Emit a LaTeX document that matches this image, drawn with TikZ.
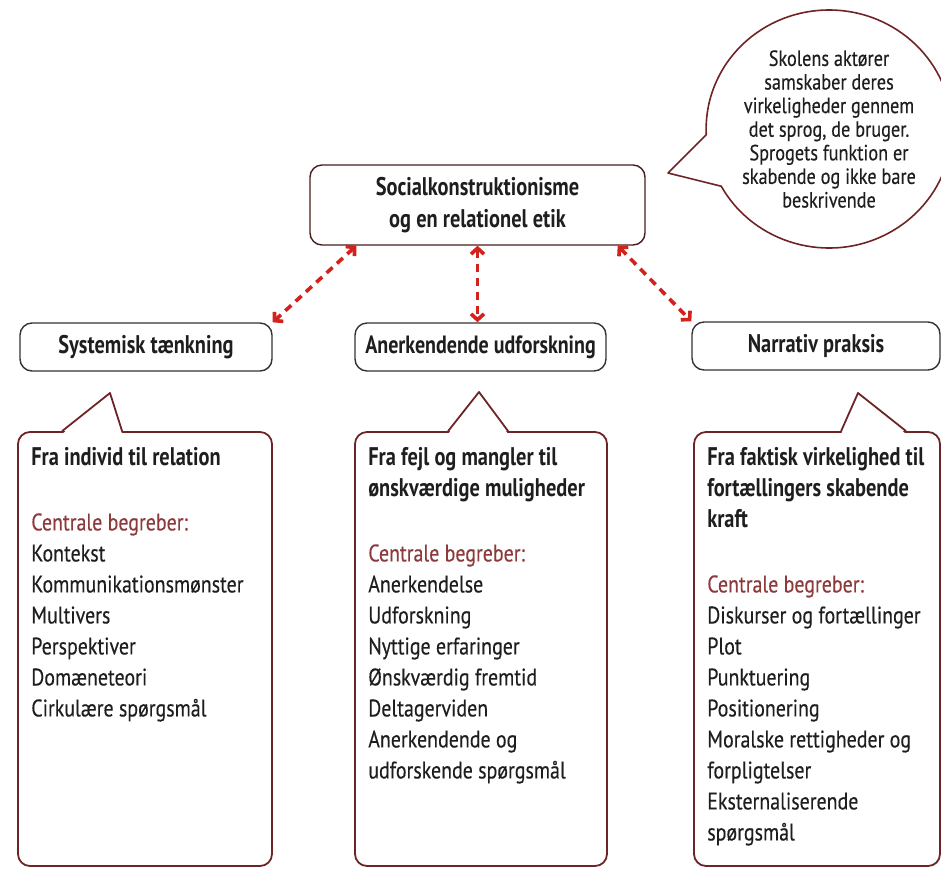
\documentclass[tikz,border=0pt]{standalone}
\usepackage{fontspec}
\setmainfont{PT Sans}[FakeStretch=0.83, FakeBold=0.3]
\newfontfamily\headfamily{PT Sans}[FakeStretch=0.8]
\newcommand\headfont{\headfamily\bfseries}
\usetikzlibrary{arrows.meta, shapes.callouts}
\definecolor{maroon}{HTML}{6E2426}
\definecolor{darkframe}{HTML}{4A1E1E}
\definecolor{arrowred}{HTML}{D3211C}
\definecolor{begreb}{HTML}{8C3A3C}
\definecolor{ink}{HTML}{1E1E1E}
\newcommand\overskrift[1]{{\headfont\fontsize{25.5}{31}\selectfont #1}}
\newcommand\begreb{{\color{begreb}Centrale begreber:}}

\begin{document}
\begin{tikzpicture}[x=1pt, y=-1pt, line join=round, text=ink,
  topic/.style={draw=#1, line width=1.4pt, rounded corners=12pt, fill=white, inner sep=0pt},
  callbox/.style={draw=maroon, line width=1.8pt, rounded corners=12pt, inner sep=0pt},
  tail/.style={draw=maroon, line width=1.8pt},
  link/.style={draw=arrowred, line width=3.6pt, dash pattern=on 8pt off 6pt, {Straight Barb[length=6pt,width=13pt]}-{Straight Barb[length=6pt,width=13pt]}},
  listtext/.style={anchor=north west, inner sep=0pt, align=left, font=\fontsize{24}{31}\selectfont}]
  \useasboundingbox (0,0) rectangle (941,871);

  % speech bubble
  \node[ellipse callout, draw=maroon, line width=1.6pt, fill=white, minimum width=222pt, minimum height=238pt,
    callout absolute pointer={(668,173)}, callout pointer arc=26, align=center, inner sep=0pt,
    font=\fontsize{22}{23.6}\selectfont] (bubble) at (829,129)
    {Skolens aktører\\samskaber deres\\virkeligheder gennem\\det sprog, de bruger.\\Sprogets funktion er\\skabende og ikke bare\\beskrivende};

  % centre and the three approaches
  \node[topic=darkframe, minimum width=335pt, minimum height=80pt, align=center, font=\headfont\fontsize{25.5}{32}\selectfont] (socialt) at (477.5,205)
    {Socialkonstruktionisme\\og en relationel etik};
  \node[topic=black!80, minimum width=252pt, minimum height=48pt, font=\headfont\fontsize{25.5}{28}\selectfont] (system) at (146,347) {Systemisk tænkning};
  \node[topic=black!80, minimum width=251pt, minimum height=48pt, font=\headfont\fontsize{25}{28}\selectfont] (anerk) at (480.5,347) {Anerkendende udforskning};
  \node[topic=black!80, minimum width=248pt, minimum height=48pt, font=\headfont\fontsize{25.5}{28}\selectfont] (narrativ) at (816,346) {Narrativ praksis};

  \draw[link] ([xshift=47pt]socialt.south west) -- (system.north east);
  \draw[link] (socialt.south) -- (socialt.south |- anerk.north);
  \draw[link] ([xshift=-28pt]socialt.south east) -- (narrativ.north west);

  % callout boxes
  \node[callbox, minimum width=254pt, minimum height=434pt] (lbox) at (145,649) {};
  \node[callbox, minimum width=252pt, minimum height=434pt] (mbox) at (481,649) {};
  \node[callbox, minimum width=246pt, minimum height=434pt] (rbox) at (817,649) {};
  \coordinate (ltip) at (110,393);
  \coordinate (mtip) at (479,392);
  \coordinate (rtip) at (858,393);
  \fill[white] ([xshift=45pt, yshift=-3pt]lbox.north west) -- (ltip) -- ([xshift=105pt, yshift=-3pt]lbox.north west) -- cycle;
  \draw[tail] ([xshift=45pt]lbox.north west) -- (ltip) -- ([xshift=105pt]lbox.north west);
  \fill[white] ([xshift=94pt, yshift=-3pt]mbox.north west) -- (mtip) -- ([xshift=154pt, yshift=-3pt]mbox.north west) -- cycle;
  \draw[tail] ([xshift=94pt]mbox.north west) -- (mtip) -- ([xshift=154pt]mbox.north west);
  \fill[white] ([xshift=148pt, yshift=-3pt]rbox.north west) -- (rtip) -- ([xshift=213pt, yshift=-3pt]rbox.north west) -- cycle;
  \draw[tail] ([xshift=148pt]rbox.north west) -- (rtip) -- ([xshift=213pt]rbox.north west);

  \node[listtext] (ltext) at ([xshift=14pt, yshift=-16pt]lbox.north west)
    {\overskrift{Fra individ til relation}\\[34pt]
     \begreb\\Kontekst\\Kommunikationsmønster\\Multivers\\Perspektiver\\Domæneteori\\Cirkulære spørgsmål};
  \node[listtext] (mtext) at ([xshift=14pt, yshift=-16pt]mbox.north west)
    {\overskrift{Fra fejl og mangler til}\\\overskrift{ønskværdige muligheder}\\[34pt]
     \begreb\\Anerkendelse\\Udforskning\\Nyttige erfaringer\\Ønskværdig fremtid\\Deltagerviden\\Anerkendende og\\udforskende spørgsmål};
  \node[listtext] (rtext) at ([xshift=14pt, yshift=-16pt]rbox.north west)
    {\overskrift{Fra faktisk virkelighed til}\\\overskrift{fortællingers skabende}\\\overskrift{kraft}\\[34pt]
     \begreb\\Diskurser og fortællinger\\Plot\\Punktuering\\Positionering\\Moralske rettigheder og\\forpligtelser\\Eksternaliserende\\spørgsmål};
\end{tikzpicture}
\end{document}
